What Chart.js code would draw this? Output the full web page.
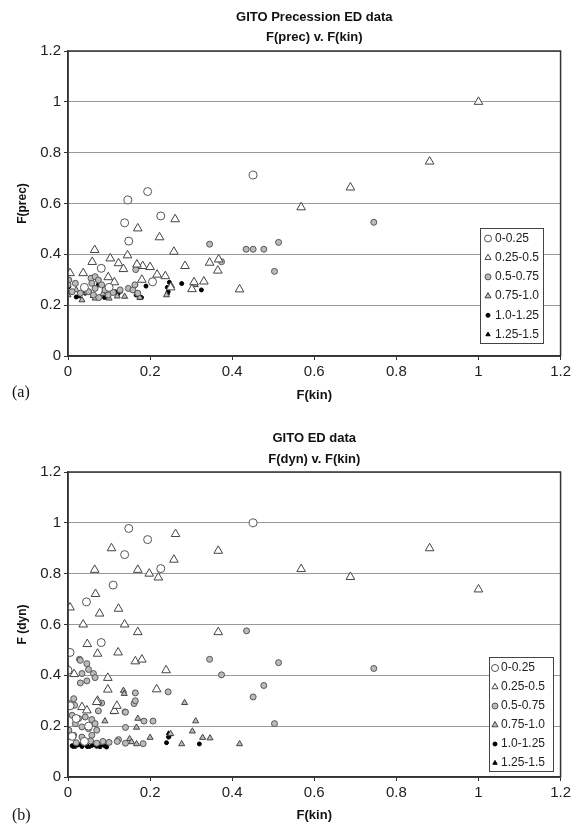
<!DOCTYPE html>
<html>
<head>
<meta charset="utf-8">
<script src="https://cdn.jsdelivr.net/npm/chart.js@4.4.0/dist/chart.umd.min.js"></script>
<style>
  body { margin: 0; width: 574px; height: 825px; overflow: hidden; background: #fff; position: relative; }
  .box { position: absolute; left: 0; width: 574px; }
  .box canvas { display: block; }
  .tag { position: absolute; left: 12px; font: 16px 'Liberation Serif', 'Times New Roman', serif; color: #111; }
</style>
</head>
<body>
<div class="box" style="top:0;height:410px"><canvas id="chartA" width="574" height="410"></canvas></div>
<div class="box" style="top:420px;height:405px"><canvas id="chartB" width="574" height="405"></canvas></div>
<div class="tag" style="top:383px">(a)</div>
<div class="tag" style="top:806px">(b)</div>

<script>
// legend ranges (same for both panels)
const rangeLabels = ['0-0.25', '0.25-0.5', '0.5-0.75', '0.75-1.0', '1.0-1.25', '1.25-1.5'];
const xTicks = [0, 0.2, 0.4, 0.6, 0.8, 1, 1.2];
const yTicks = [0, 0.2, 0.4, 0.6, 0.8, 1, 1.2];

// (a) F(prec) v. F(kin)  -- [F(kin), F(prec)]
const precR1 = [[0.146,0.614],[0.194,0.647],[0.451,0.712],[0.138,0.524],[0.226,0.551],[0.148,0.452],[0.081,0.345],[0.206,0.292],[0.04,0.27],[0.1,0.27]];
const precR2 = [[0.568,0.585],[0.688,0.663],[0.881,0.765],[1.0,1.0],[0.261,0.538],[0.17,0.502],[0.223,0.467],[0.258,0.41],
  [0.065,0.417],[0.103,0.384],[0.145,0.396],[0.285,0.354],[0.345,0.367],[0.367,0.38],[0.365,0.336],[0.418,0.262],
  [0.307,0.29],[0.331,0.293],[0.302,0.263],[0.217,0.32],[0.237,0.314],[0.182,0.354],[0.2,0.35],[0.168,0.36],
  [0.123,0.365],[0.135,0.342],[0.059,0.37],[0.037,0.326],[0.005,0.326],[0.098,0.31],[0.113,0.29],[0.18,0.3],[0.25,0.27]];
const precR3 = [[0.345,0.44],[0.434,0.42],[0.451,0.42],[0.477,0.42],[0.513,0.447],[0.503,0.333],[0.374,0.371],[0.745,0.526],
  [0.165,0.34],[0.056,0.306],[0.066,0.312],[0.074,0.299],[0.058,0.286],[0.082,0.28],[0.066,0.266],[0.05,0.253],
  [0.09,0.26],[0.062,0.24],[0.098,0.24],[0.002,0.299],[0.0,0.28],[0.018,0.286],[0.01,0.253],[0.03,0.247],
  [0.127,0.26],[0.147,0.266],[0.158,0.26],[0.17,0.247],[0.163,0.28],[0.075,0.23],[0.11,0.25]];
const precR4 = [[0.034,0.22],[0.066,0.227],[0.1,0.227],[0.138,0.234],[0.24,0.24],[0.0,0.24],[0.31,0.28],[0.252,0.276],
  [0.02,0.26],[0.085,0.245],[0.175,0.23],[0.12,0.235],[0.045,0.25]];
const precR5 = [[0.277,0.285],[0.325,0.26],[0.19,0.275],[0.165,0.28],[0.247,0.29],[0.122,0.245],[0.094,0.255],[0.02,0.232],
  [0.028,0.24],[0.089,0.23],[0.179,0.23],[0.242,0.27],[0.052,0.255],[0.002,0.273],[0.042,0.247],[0.115,0.253],
  [0.166,0.24],[0.175,0.234],[0.244,0.253],[0.074,0.28]];
const precR6 = [[0.026,0.234],[0.127,0.253],[0.242,0.247],[0.175,0.227],[0.06,0.235]];

// (b) F(dyn) v. F(kin)  -- [F(kin), F(dyn)]
const dynR1 = [[0.148,0.978],[0.194,0.934],[0.138,0.875],[0.226,0.82],[0.11,0.755],[0.045,0.689],[0.081,0.529],[0.005,0.49],
  [0.0,0.42],[0.451,1.0],[0.005,0.28],[0.02,0.23],[0.05,0.2],[0.01,0.16],[0.04,0.14]];
const dynR2 = [[0.262,0.956],[0.106,0.9],[0.366,0.89],[0.258,0.855],[0.065,0.815],[0.17,0.815],[0.198,0.8],[0.22,0.785],
  [0.067,0.72],[0.077,0.643],[0.005,0.667],[0.123,0.662],[0.037,0.6],[0.138,0.6],[0.17,0.57],[0.366,0.57],
  [0.047,0.523],[0.072,0.485],[0.122,0.49],[0.164,0.455],[0.18,0.462],[0.097,0.39],[0.015,0.405],[0.239,0.42],
  [0.097,0.344],[0.216,0.345],[0.072,0.3],[0.113,0.26],[0.119,0.28],[0.568,0.818],[0.688,0.787],[0.881,0.9],
  [1.0,0.738],[0.0,0.423],[0.034,0.275],[0.046,0.262],[0.07,0.295]];
const dynR3 = [[0.435,0.575],[0.345,0.463],[0.513,0.45],[0.374,0.402],[0.477,0.36],[0.451,0.315],[0.503,0.21],[0.745,0.427],
  [0.028,0.463],[0.03,0.459],[0.046,0.446],[0.034,0.407],[0.05,0.423],[0.062,0.407],[0.066,0.391],[0.03,0.37],
  [0.046,0.378],[0.164,0.331],[0.244,0.335],[0.014,0.308],[0.002,0.289],[0.016,0.282],[0.082,0.291],[0.074,0.26],
  [0.139,0.256],[0.161,0.289],[0.164,0.3],[0.01,0.243],[0.026,0.23],[0.042,0.236],[0.058,0.226],[0.066,0.21],
  [0.018,0.21],[0.034,0.197],[0.05,0.19],[0.07,0.184],[0.002,0.184],[0.014,0.164],[0.058,0.164],[0.034,0.157],
  [0.185,0.22],[0.207,0.22],[0.14,0.195],[0.183,0.131],[0.123,0.147],[0.02,0.135],[0.04,0.14],[0.055,0.142],
  [0.07,0.133],[0.085,0.14],[0.1,0.136],[0.12,0.14],[0.14,0.133],[0.14,0.255]];
const dynR4 = [[0.135,0.34],[0.284,0.292],[0.311,0.22],[0.303,0.18],[0.328,0.155],[0.346,0.153],[0.277,0.13],[0.418,0.13],
  [0.25,0.17],[0.2,0.155],[0.167,0.13],[0.15,0.15],[0.17,0.23],[0.167,0.195],[0.09,0.22],[0.137,0.328],[0.155,0.138],[0.111,0.256]];
const dynR5 = [[0.24,0.135],[0.246,0.16],[0.32,0.13],[0.245,0.157],[0.01,0.123],[0.022,0.125],[0.034,0.12],[0.046,0.122],
  [0.058,0.124],[0.07,0.121],[0.078,0.119],[0.09,0.122],[0.094,0.118],[0.03,0.128],[0.065,0.127]];
const dynR6 = [[0.245,0.172],[0.015,0.118],[0.05,0.118],[0.085,0.125]];

const FONT = "'Liberation Sans', Arial, sans-serif";

const markers = [
  { pointStyle: 'circle',   r: 4,   bg: '#fff', fg: '#555' },
  { pointStyle: 'triangle', r: 5,   bg: '#fff', fg: '#444' },
  { pointStyle: 'circle',   r: 3,   bg: '#bbb', fg: '#555' },
  { pointStyle: 'triangle', r: 3.5, bg: '#bbb', fg: '#444' },
  { pointStyle: 'circle',   r: 2,   bg: '#000', fg: '#000' },
  { pointStyle: 'triangle', r: 2.5, bg: '#000', fg: '#000' }
];

// two-line heading, centred on the plot area
const header = {
  id: 'header',
  afterDraw(chart, args, o) {
    const ctx = chart.ctx, a = chart.chartArea;
    ctx.save();
    ctx.fillStyle = '#111';
    ctx.font = 'bold 13px ' + FONT;
    ctx.textAlign = 'center';
    ctx.textBaseline = 'middle';
    o.lines.forEach((t, i) => ctx.fillText(t, (a.left + a.right) / 2, o.y[i]));
    ctx.restore();
  }
};

const frame = {
  id: 'frame',
  afterDatasetsDraw(chart) {
    const ctx = chart.ctx, a = chart.chartArea;
    ctx.save();
    ctx.strokeStyle = '#333';
    ctx.lineWidth = 1.5;
    ctx.strokeRect(a.left, a.top, a.right - a.left, a.bottom - a.top);
    ctx.restore();
  }
};

const boxLegend = {
  id: 'boxLegend',
  afterDraw(chart, args, o) {
    const ctx = chart.ctx;
    ctx.save();
    ctx.fillStyle = '#fff';
    ctx.fillRect(o.x, o.y, o.w, o.h);
    ctx.strokeStyle = '#444';
    ctx.lineWidth = 1;
    ctx.strokeRect(o.x + 0.5, o.y + 0.5, o.w, o.h);
    chart.data.datasets.forEach((ds, i) => {
      const cy = o.y + o.first + i * o.row;
      ctx.fillStyle = ds.pointBackgroundColor;
      ctx.strokeStyle = ds.pointBorderColor;
      ctx.lineWidth = 1;
      Chart.helpers.drawPoint(ctx, { pointStyle: ds.pointStyle, radius: Math.min(ds.pointRadius, 3.5), borderWidth: 1, rotation: 0 }, o.x + o.mx, cy);
      ctx.fillStyle = '#222';
      ctx.font = '12px ' + FONT;
      ctx.textAlign = 'left';
      ctx.textBaseline = 'middle';
      ctx.fillText(ds.label, o.x + o.tx, cy);
    });
    ctx.restore();
  }
};

const tickText = v => String(parseFloat(Number(v).toFixed(1)));

function makeChart(id, series, cfg) {
  const datasets = series.map((pts, i) => ({
    label: rangeLabels[i],
    data: pts.map(p => ({ x: p[0], y: p[1] })),
    pointStyle: markers[i].pointStyle,
    pointRadius: markers[i].r,
    pointHoverRadius: markers[i].r,
    pointBackgroundColor: markers[i].bg,
    pointBorderColor: markers[i].fg,
    pointBorderWidth: 1
  }));

  return new Chart(document.getElementById(id), {
    type: 'scatter',
    data: { datasets: datasets },
    options: {
      responsive: false,
      animation: false,
      events: [],
      layout: { padding: { top: cfg.top, right: 10, left: 0, bottom: 0 } },
      plugins: {
        legend: { display: false },
        title: { display: false },
        tooltip: { enabled: false },
        header: { lines: cfg.title, y: cfg.titleY },
        boxLegend: cfg.legend
      },
      scales: {
        x: {
          type: 'linear',
          min: 0, max: 1.2,
          afterBuildTicks: s => { s.ticks = xTicks.map(v => ({ value: v })); },
          ticks: { color: '#222', font: { size: 15, family: FONT }, padding: 3, callback: tickText },
          grid: { drawOnChartArea: false, drawTicks: true, tickLength: 4, color: '#333' },
          border: { color: '#333', width: 1.5 },
          title: { display: true, text: 'F(kin)', color: '#111', font: { size: 13, weight: 'bold', family: FONT }, padding: { top: 0, bottom: cfg.xPad } },
          afterFit: s => { s.height = cfg.xh; }
        },
        y: {
          type: 'linear',
          min: 0, max: 1.2,
          afterBuildTicks: s => { s.ticks = yTicks.map(v => ({ value: v })); },
          ticks: { color: '#222', font: { size: 15, family: FONT }, padding: 3, callback: tickText },
          grid: { color: '#999', lineWidth: 1, drawTicks: true, tickLength: 4, tickColor: '#333' },
          border: { color: '#333', width: 1.5 },
          title: { display: true, text: cfg.yTitle, color: '#111', font: { size: 12, weight: 'bold', family: FONT }, padding: { top: 15, bottom: 0 } },
          afterFit: s => { s.width = 68; }
        }
      }
    },
    plugins: [header, frame, boxLegend]
  });
}

makeChart('chartA', [precR1, precR2, precR3, precR4, precR5, precR6], {
  top: 51, xh: 54, xPad: 7,
  title: ['GITO Precession ED data', 'F(prec) v. F(kin)'], titleY: [17, 37],
  yTitle: 'F(prec)',
  legend: { x: 480, y: 228, w: 63, h: 115, first: 10.5, row: 19.2, mx: 8, tx: 15 }
});

makeChart('chartB', [dynR1, dynR2, dynR3, dynR4, dynR5, dynR6], {
  top: 52, xh: 48, xPad: 2,
  title: ['GITO ED data', 'F(dyn) v. F(kin)'], titleY: [18, 39],
  yTitle: 'F (dyn)',
  legend: { x: 489, y: 237, w: 64, h: 114, first: 11, row: 19, mx: 6, tx: 12 }
});
</script>
</body>
</html>
